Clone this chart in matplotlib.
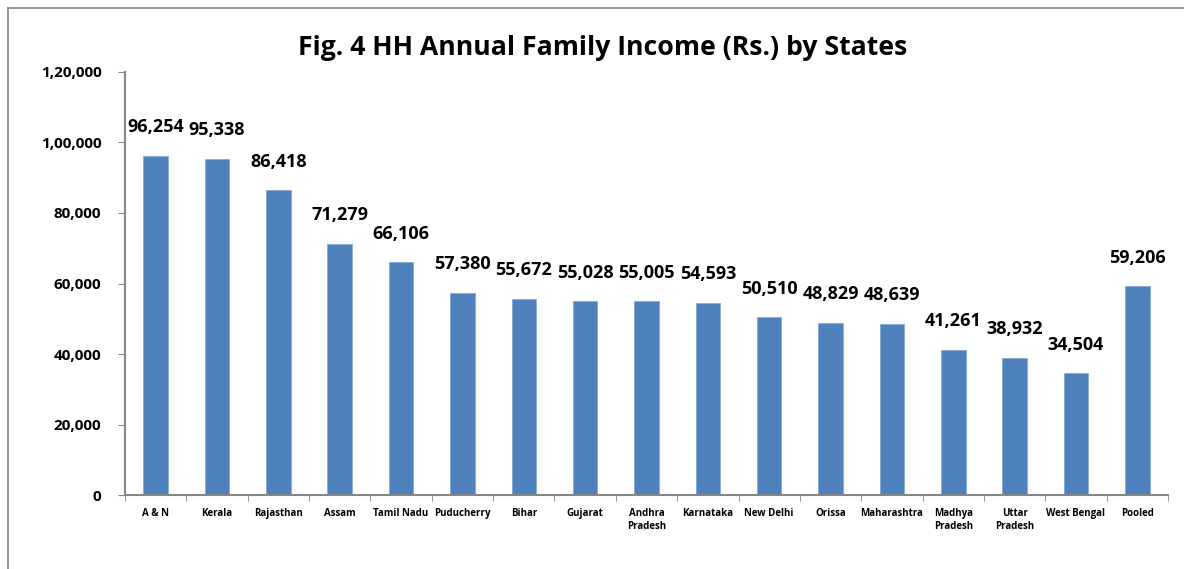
import matplotlib
matplotlib.use("Agg")
import matplotlib.pyplot as plt
from matplotlib.lines import Line2D
from matplotlib.ticker import FuncFormatter, FixedLocator
import numpy as np

plt.rcParams['font.family'] = ['Open Sans', 'DejaVu Sans']

states = ['A & N', 'Kerala', 'Rajasthan', 'Assam', 'Tamil Nadu', 'Puducherry',
          'Bihar', 'Gujarat', 'Andhra\nPradesh', 'Karnataka', 'New Delhi', 'Orissa',
          'Maharashtra', 'Madhya\nPradesh', 'Uttar\nPradesh', 'West Bengal', 'Pooled']
income = [96254, 95338, 86418, 71279, 66106, 57380, 55672, 55028, 55005, 54593,
          50510, 48829, 48639, 41261, 38932, 34504, 59206]
y_ticks = [0, 20000, 40000, 60000, 80000, 100000, 120000]


def indian(v, pos=None):
    s = str(int(round(v)))
    if len(s) <= 3:
        return s
    last3 = s[-3:]
    rest = s[:-3]
    groups = []
    while len(rest) > 2:
        groups.insert(0, rest[-2:])
        rest = rest[:-2]
    if rest:
        groups.insert(0, rest)
    return ','.join(groups + [last3])


fig = plt.figure(figsize=(11.84, 5.69), dpi=100)
ax = fig.add_axes([0.1056, 0.130, 0.8809, 0.7435])

x = np.arange(len(states))
ax.bar(x, income, width=0.4, color='#4F81BD', edgecolor='#7FA6D6', linewidth=0.5)

for xi, v in zip(x, income):
    ax.annotate(f"{v:,}", (xi, v), xytext=(0, 14), textcoords='offset points',
                ha='center', va='bottom', fontsize=13, fontweight='bold')

ax.set_xlim(-0.5, len(states) - 0.5)
ax.set_ylim(0, 120000)
ax.yaxis.set_major_locator(FixedLocator(y_ticks))
ax.yaxis.set_major_formatter(FuncFormatter(indian))
ax.set_xticks(x)
ax.set_xticklabels(states, fontsize=7, fontweight='bold', linespacing=1.3)
ax.set_xticks(np.arange(len(states) + 1) - 0.5, minor=True)
ax.tick_params(axis='x', which='major', length=0, pad=9)
ax.tick_params(axis='x', which='minor', length=4, color='#868686', direction='out')
ax.tick_params(axis='y', length=5, color='#868686', labelsize=11, pad=12)
for lab in ax.get_yticklabels():
    lab.set_fontweight('bold')

for s in ['top', 'right']:
    ax.spines[s].set_visible(False)
for s in ['left', 'bottom']:
    ax.spines[s].set_color('#868686')
    ax.spines[s].set_linewidth(1.5)

fig.text(0.509, 0.915, 'Fig. 4 HH Annual Family Income (Rs.) by States',
         ha='center', va='center', fontsize=19.2, fontweight='bold')

# outer chart frame (partially visible)
fig.add_artist(Line2D([8 / 1184, 8 / 1184], [0, 1 - 8 / 569], transform=fig.transFigure,
                      color='#868686', linewidth=1.2))
fig.add_artist(Line2D([8 / 1184, 1], [1 - 8 / 569, 1 - 8 / 569], transform=fig.transFigure,
                      color='#868686', linewidth=1.2))

fig.savefig('out.png', dpi=100)
